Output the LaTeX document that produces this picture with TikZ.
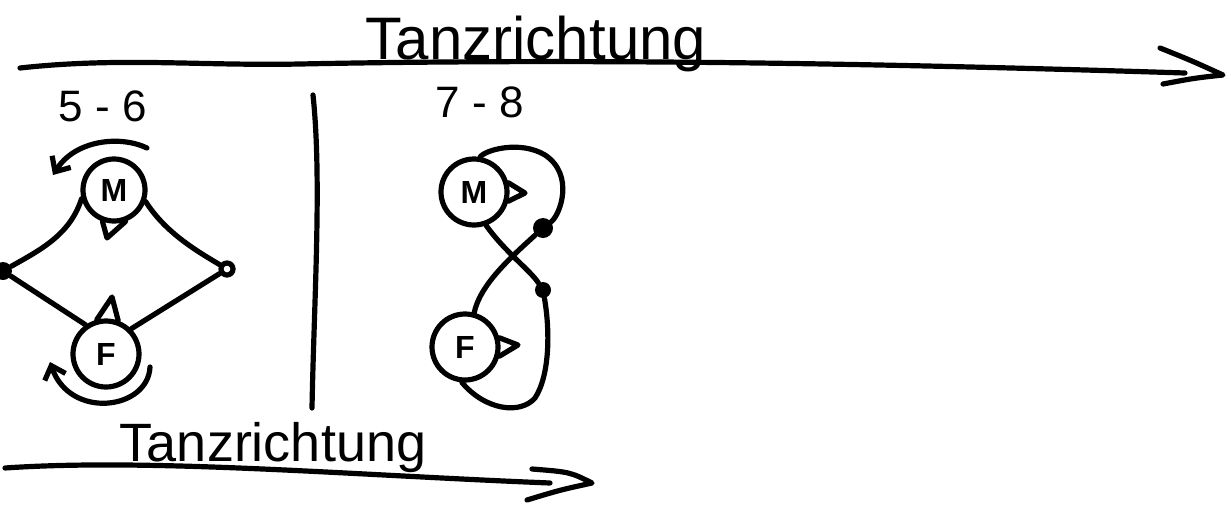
\documentclass[tikz,border=0pt]{standalone}
\usepackage{fontspec}
\setmainfont{Liberation Sans}
\usetikzlibrary{arrows.meta,calc}
\begin{document}
\begin{tikzpicture}[x=0.5pt,y=-0.5pt,
  pen/.style={line width=2.6pt,line cap=round,line join=round},
  person/.style={pen,draw,circle,minimum size=31pt,inner sep=0pt,font=\bfseries\fontsize{16}{16}\selectfont},
  dotfill/.style={circle,fill,inner sep=0pt,minimum size=8pt},
  dotopen/.style={pen,draw,circle,inner sep=0pt,minimum size=6pt},
  barb/.style={-{Straight Barb[length=6pt,width=11pt,line width=2.6pt]}},
  lbl/.style={font=\fontsize{22}{22}\selectfont}]
\useasboundingbox (0,0) rectangle (1231,504);

% ---- top direction arrow
\coordinate (tl) at (20,68);
\coordinate (tm) at (1185,73);
\coordinate (ttip) at (1223,75);
\coordinate (ta) at (1160,48);
\coordinate (tb) at (1163,84);
\draw[pen] (tl) .. controls (120,57) and (200,66) .. (300,64)
  .. controls (600,58) and (900,64) .. (tm);
\draw[pen] (ta) .. controls (1190,60) .. (ttip) .. controls (1195,78) .. (tb);
\node[font=\fontsize{30}{30}\selectfont,anchor=base] (title) at (536,59) {Tanzrichtung};

% ---- left panel 5-6
\node[lbl] (n56) at (103,106) {5 - 6};
\node[person] (M1) at (114,190) {M};
\node[person,minimum size=33pt] (F1) at (106,354) {F};
\node[dotfill,minimum size=9pt] (L1) at (3,271) {};
\node[dotopen] (R1) at (227,269) {};
\coordinate (M1t) at (107,238);
\coordinate (F1t) at (112,297);
\draw[pen] (M1.250) -- (M1t) -- (M1.290);
\draw[pen] (F1.105) -- (F1t) -- (F1.70);
\draw[pen] (M1.195) .. controls (70,235) and (40,250) .. (L1);
\draw[pen] (M1.340) .. controls (165,232) and (195,250) .. (R1);
\draw[pen] (L1) -- (F1.125);
\draw[pen] (R1) -- (F1.45);
% rotation arrows
\coordinate (a1s) at (147,148);
\coordinate (a1e) at (53,175);
\draw[pen,barb] (a1s) .. controls (120,135) and (75,140) .. (a1e);
\coordinate (a2s) at (150,367);
\coordinate (a2e) at (50,362);
\draw[pen,barb] (a2s) .. controls (148,410) and (70,420) .. (a2e);

% ---- divider
\coordinate (d1) at (313,95);
\coordinate (d2) at (312,408);
\draw[pen] (d1) .. controls (322,180) and (314,300) .. (d2);

% ---- right panel 7-8
\node[lbl] (n78) at (480,102) {7 - 8};
\node[person,minimum size=33pt] (M2) at (474,192) {M};
\node[person,minimum size=33pt] (F2) at (465,347) {F};
\node[dotfill,minimum size=10pt] (D1) at (543,228) {};
\node[dotfill,minimum size=8pt] (D2) at (543,290) {};
\coordinate (M2t) at (525,193);
\coordinate (F2t) at (518,345);
\draw[pen] (M2.15) -- (M2t) -- (M2.345);
\draw[pen] (F2.15) -- (F2t) -- (F2.345);
\draw[pen] (M2.80) .. controls (485,150) and (520,140) .. (545,155)
  .. controls (575,175) and (560,215) .. (D1);
\draw[pen] (D1) .. controls (510,258) and (480,285) .. (F2.75);
\draw[pen] (M2.290) .. controls (505,252) and (530,270) .. (D2);
\draw[pen] (D2) .. controls (550,330) and (550,375) .. (535,398)
  .. controls (520,415) and (485,410) .. (F2.265);

% ---- bottom direction arrow
\node[font=\fontsize{27}{27}\selectfont,anchor=base] (title2) at (273,461) {Tanzrichtung};
\coordinate (bl) at (5,468);
\coordinate (br) at (550,483);
\coordinate (btip) at (592,483);
\coordinate (ba) at (532,469);
\coordinate (bb) at (527,500);
\draw[pen] (bl) .. controls (150,458) and (350,475) .. (br);
\draw[pen] (ba) .. controls (570,472) .. (btip) .. controls (560,490) .. (bb);
\end{tikzpicture}
\end{document}
